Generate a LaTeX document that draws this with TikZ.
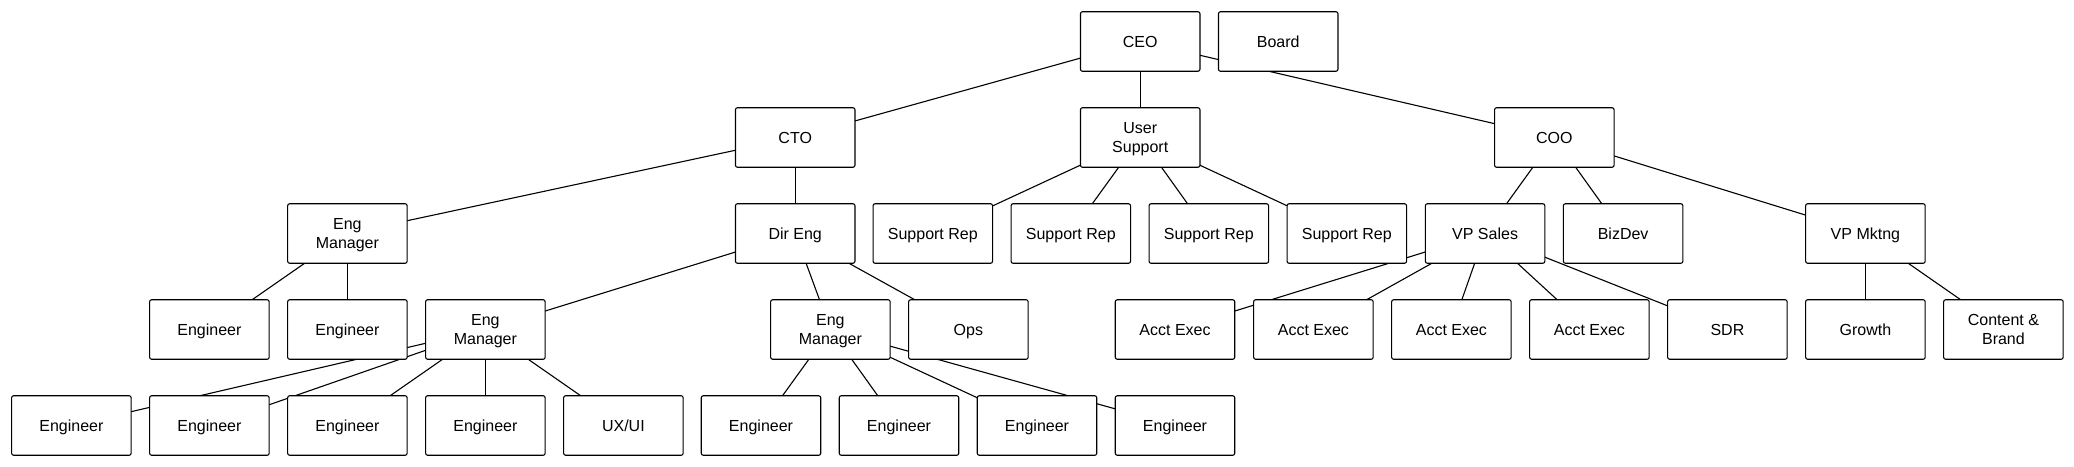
\documentclass[tikz,border=0pt]{standalone}
\usepackage{fontspec}
\setmainfont{Liberation Sans}
\usetikzlibrary{backgrounds}
\begin{document}
\begin{tikzpicture}[x=1pt,y=-1pt,
  box/.style={draw=black, line width=1.1pt, fill=white, rounded corners=2pt,
    minimum width=119.5pt, minimum height=59.5pt, inner sep=0pt, outer sep=0pt,
    text depth=0pt, align=center, font=\fontsize{16}{18.4}\selectfont},
  conn/.style={draw=black, line width=1.1pt}]
\useasboundingbox (0,0) rectangle (2074,466);
% row 0
\node[box] (ceo) at (1140.2,41.5) {CEO};
\node[box] (board) at (1278.2,41.5) {Board};
% row 1
\node[box] (cto) at (795.2,137.5) {CTO};
\node[box] (us) at (1140.2,137.5) {User\\Support};
\node[box] (coo) at (1554.3,137.5) {COO};
% row 2
\node[box] (ema) at (347.4,233.5) {Eng\\Manager};
\node[box] (dir) at (795.2,233.5) {Dir Eng};
\node[box] (sr1) at (932.8,233.5) {Support Rep};
\node[box] (sr2) at (1070.8,233.5) {Support Rep};
\node[box] (sr3) at (1208.8,233.5) {Support Rep};
\node[box] (sr4) at (1346.8,233.5) {Support Rep};
\node[box] (vps) at (1485.1,233.5) {VP Sales};
\node[box] (biz) at (1623.1,233.5) {BizDev};
\node[box] (vpm) at (1865.4,233.5) {VP Mktng};
% row 3
\node[box] (e31) at (209.4,329.5) {Engineer};
\node[box] (e32) at (347.4,329.5) {Engineer};
\node[box] (emb) at (485.4,329.5) {Eng\\Manager};
\node[box] (emc) at (830.4,329.5) {Eng\\Manager};
\node[box] (ops) at (968.4,329.5) {Ops};
\node[box] (ae1) at (1175.0,329.5) {Acct Exec};
\node[box] (ae2) at (1313.4,329.5) {Acct Exec};
\node[box] (ae3) at (1451.4,329.5) {Acct Exec};
\node[box] (ae4) at (1589.4,329.5) {Acct Exec};
\node[box] (sdr) at (1727.4,329.5) {SDR};
\node[box] (gro) at (1865.4,329.5) {Growth};
\node[box] (cab) at (2003.4,329.5) {Content \&\\Brand};
% row 4
\node[box] (e41) at (71.4,425.5) {Engineer};
\node[box] (e42) at (209.4,425.5) {Engineer};
\node[box] (e43) at (347.4,425.5) {Engineer};
\node[box] (e44) at (485.4,425.5) {Engineer};
\node[box] (ux) at (623.4,425.5) {UX/UI};
\node[box] (e45) at (761.0,425.5) {Engineer};
\node[box] (e46) at (899.0,425.5) {Engineer};
\node[box] (e47) at (1037.0,425.5) {Engineer};
\node[box] (e48) at (1175.0,425.5) {Engineer};
\begin{pgfonlayer}{background}
\path[conn] (ceo) -- (cto);
\path[conn] (ceo) -- (us);
\path[conn] (ceo) -- (coo);
\path[conn] (cto) -- (ema);
\path[conn] (cto) -- (dir);
\path[conn] (ema) -- (e31);
\path[conn] (ema) -- (e32);
\path[conn] (dir) -- (emb);
\path[conn] (dir) -- (emc);
\path[conn] (dir) -- (ops);
\path[conn] (emb) -- (e41);
\path[conn] (emb) -- (e42);
\path[conn] (emb) -- (e43);
\path[conn] (emb) -- (e44);
\path[conn] (emb) -- (ux);
\path[conn] (emc) -- (e45);
\path[conn] (emc) -- (e46);
\path[conn] (emc) -- (e47);
\path[conn] (emc) -- (e48);
\path[conn] (us) -- (sr1);
\path[conn] (us) -- (sr2);
\path[conn] (us) -- (sr3);
\path[conn] (us) -- (sr4);
\path[conn] (coo) -- (vps);
\path[conn] (coo) -- (biz);
\path[conn] (coo) -- (vpm);
\path[conn] (vps) -- (ae1);
\path[conn] (vps) -- (ae2);
\path[conn] (vps) -- (ae3);
\path[conn] (vps) -- (ae4);
\path[conn] (vps) -- (sdr);
\path[conn] (vpm) -- (gro);
\path[conn] (vpm) -- (cab);
\end{pgfonlayer}
\end{tikzpicture}
\end{document}
